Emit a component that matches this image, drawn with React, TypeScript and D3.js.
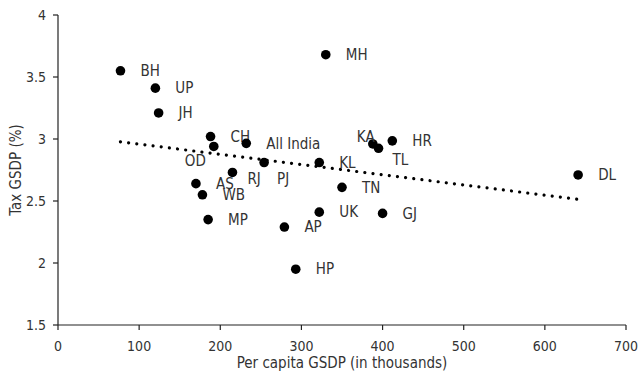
import React from 'react'
import { scaleLinear, line } from 'd3'

const states = ['BH', 'UP', 'JH', 'CH', 'OD', 'All India', 'RJ', 'PJ', 'AS', 'WB', 'MP', 'AP', 'HP', 'UK', 'TN', 'GJ', 'MH', 'KA', 'TL', 'HR', 'KL', 'DL']
const perCapita = [77, 120, 124, 188, 192, 232, 215, 254, 170, 178, 185, 279, 293, 322, 350, 400, 330, 388, 395, 412, 322, 641]
const taxGsdp = [3.55, 3.41, 3.21, 3.02, 2.94, 2.965, 2.73, 2.81, 2.64, 2.55, 2.35, 2.29, 1.95, 2.41, 2.61, 2.40, 3.68, 2.96, 2.925, 2.985, 2.81, 2.71]
const xTicks = [0, 100, 200, 300, 400, 500, 600, 700]
const yTicks = [1.5, 2, 2.5, 3, 3.5, 4]

// label placement relative to the dot (px)
const labelOffsets: Record<string, [number, number]> = {
  OD: [-29, 14], RJ: [15, 6], PJ: [13, 16], KA: [-16, -7], TL: [14, 11],
}

const font = "'DejaVu Sans Condensed', 'DejaVu Sans', sans-serif"

const App = () => {
  const margin = { left: 58, top: 15, right: 12, bottom: 48 }
  const W = 638, H = 373
  const x = scaleLinear().domain([0, 700]).range([margin.left, W - margin.right])
  const y = scaleLinear().domain([1.5, 4]).range([H - margin.bottom, margin.top])

  // least squares trend line
  const n = perCapita.length
  const mx = perCapita.reduce((a, b) => a + b, 0) / n
  const my = taxGsdp.reduce((a, b) => a + b, 0) / n
  let sxy = 0, sxx = 0
  perCapita.forEach((v, i) => { sxy += (v - mx) * (taxGsdp[i] - my); sxx += (v - mx) ** 2 })
  const slope = sxy / sxx
  const icpt = my - slope * mx
  const xmin = Math.min(...perCapita), xmax = Math.max(...perCapita)
  const trend = line<number>().x(d => x(d)).y(d => y(icpt + slope * d))([xmin, xmax])

  const y0 = y(1.5)
  return (
    <svg width={W} height={H} style={{ position: 'absolute', left: 0, top: 0, fontStretch: 'condensed' }} fontFamily={font}>
      <rect width={W} height={H} fill='#fff' />
      <path d={trend ?? ''} fill='none' stroke='#000' strokeWidth={3.2} strokeLinecap='round' strokeDasharray='0.01 8.2' />
      {states.map((s, i) => {
        const cx = x(perCapita[i]), cy = y(taxGsdp[i])
        const off = labelOffsets[s] ?? [20, 0]
        return (
          <g key={s}>
            <circle cx={cx} cy={cy} r={4.8} fill='#000' />
            <text x={cx + off[0]} y={cy + off[1]} dy='0.35em' fontSize={15} fill='#333'>{s}</text>
          </g>
        )
      })}
      <line x1={margin.left} x2={margin.left} y1={y(4)} y2={y0} stroke='#222' strokeWidth={1.2} />
      <line x1={margin.left} x2={x(700)} y1={y0} y2={y0} stroke='#222' strokeWidth={1.2} />
      {yTicks.map(t => (
        <g key={t}>
          <line x1={margin.left - 5} x2={margin.left} y1={y(t)} y2={y(t)} stroke='#222' strokeWidth={1.2} />
          <text x={margin.left - 12} y={y(t)} dy='0.35em' textAnchor='end' fontSize={14} fill='#333'>{t}</text>
        </g>
      ))}
      {xTicks.map(t => (
        <g key={t}>
          <line x1={x(t)} x2={x(t)} y1={y0} y2={y0 + 5} stroke='#222' strokeWidth={1.2} />
          <text x={x(t)} y={y0 + 21} dy='0.35em' textAnchor='middle' fontSize={14} fill='#333'>{t}</text>
        </g>
      ))}
      <text x={(margin.left + x(700)) / 2} y={H - 10} dy='0.35em' textAnchor='middle' fontSize={15} fill='#333'>Per capita GSDP (in thousands)</text>
      <text transform={`translate(16,${(y(4) + y0) / 2}) rotate(-90)`} dy='0.35em' textAnchor='middle' fontSize={15} fill='#333'>Tax GSDP (%)</text>
    </svg>
  )
}

export default App
